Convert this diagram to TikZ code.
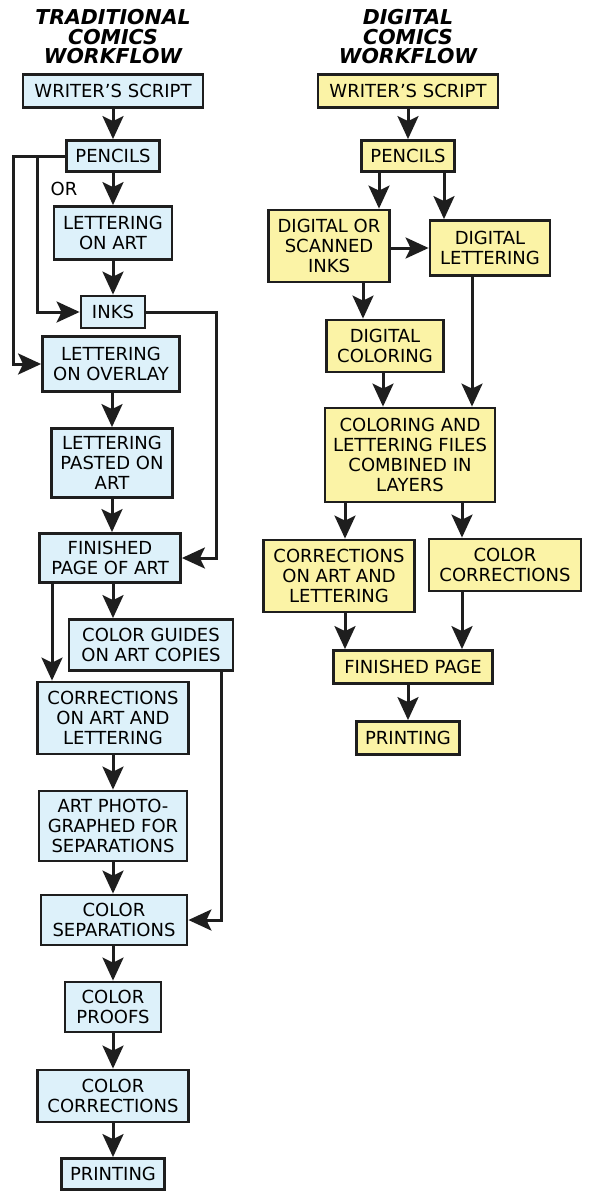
\documentclass[tikz,border=0pt]{standalone}
\usepackage{fontspec}
\setmainfont{DejaVu Sans}
\usepackage{xcolor}
\usetikzlibrary{arrows.meta}
\definecolor{tradblue}{HTML}{DDF1FA}
\definecolor{digiyellow}{HTML}{FBF3A6}
\definecolor{inkline}{HTML}{1E1E1E}

\begin{document}
\begin{tikzpicture}[x=1pt, y=-1pt, >={Stealth[length=23pt, width=21pt, inset=5pt]},
  line width=3pt, draw=inkline,
  box/.style={draw=inkline, line width=2.8pt, inner sep=0pt, align=center, font=\fontsize{18}{20}\selectfont},
  sz/.style 2 args={minimum width=#1pt, minimum height=#2pt},
  trad/.style={box, fill=tradblue},
  digi/.style={box, fill=digiyellow},
  head/.style={align=center, inner sep=0pt, font=\fontsize{20.5}{19.5}\selectfont\bfseries\itshape}]
  \useasboundingbox (0,0) rectangle (590,1200);

  % traditional workflow
  \node[head] (th) at (113,37) {TRADITIONAL\\COMICS\\WORKFLOW};
  \node[trad, sz={180}{33}] (ws) at (113,91) {WRITER’S SCRIPT};
  \node[trad, sz={93}{31}] (pen) at (113,156) {PENCILS};
  \node[inner sep=0pt, font=\fontsize{18}{20}\selectfont] (or) at (64,189) {OR};
  \node[trad, sz={118}{53}] (loa) at (113,233) {LETTERING\\ON ART};
  \node[trad, sz={64}{32}] (inks) at (113,312) {INKS};
  \node[trad, sz={137}{55}] (ovl) at (111,364) {LETTERING\\ON OVERLAY};
  \node[trad, sz={121}{69}] (pst) at (112,463) {LETTERING\\PASTED ON\\ART};
  \node[trad, sz={141}{49}] (fin) at (110,558) {FINISHED\\PAGE OF ART};
  \node[trad, sz={164}{51}] (gd) at (151,645) {COLOR GUIDES\\ON ART COPIES};
  \node[trad, sz={151}{72}] (cor) at (113,718) {CORRECTIONS\\ON ART AND\\LETTERING};
  \node[trad, sz={148}{70}] (pho) at (113,826) {ART PHOTO-\\GRAPHED FOR\\SEPARATIONS};
  \node[trad, sz={146}{50}] (sep) at (114,920) {COLOR\\SEPARATIONS};
  \node[trad, sz={96}{50}] (prf) at (113,1007) {COLOR\\PROOFS};
  \node[trad, sz={151}{52}] (cc) at (113,1096) {COLOR\\CORRECTIONS};
  \node[trad, sz={103}{31}] (prn) at (113,1174) {PRINTING};

  \draw[->] (ws) -- (pen);
  \draw[->] (pen) -- (loa);
  \draw[->] (loa) -- (inks);
  \draw[->] (pen.west) -- ++(-52,0) |- (ovl.west);
  \draw[->] ([xshift=-28pt]pen.west) |- (inks.west);
  \draw[->] (inks.east) -- ++(70,0) |- (fin.east);
  \draw[->] (ovl.south -| pst) -- (pst);
  \draw[->] (pst.south -| fin.north) ++(2,0) -- ([xshift=2pt]fin.north);
  \draw[->] ([xshift=3pt]fin.south) -- ([xshift=3pt]fin.south |- gd.north);
  \draw[->] ([xshift=-58pt]fin.south) -- ([xshift=-61pt]cor.north);
  \draw[->] ([xshift=70pt]gd.south) |- (sep.east);
  \draw[->] (cor) -- (pho);
  \draw[->] (pho.south) -- (pho.south |- sep.north);
  \draw[->] (sep.south -| prf) -- (prf);
  \draw[->] (prf) -- (cc);
  \draw[->] (cc) -- (prn);

  % digital workflow
  \node[head] (dh) at (408,37) {DIGITAL\\COMICS\\WORKFLOW};
  \node[digi, sz={180}{33}] (ws2) at (408,91) {WRITER’S SCRIPT};
  \node[digi, sz={93}{31}] (pen2) at (408,156) {PENCILS};
  \node[digi, sz={121}{72}] (ink2) at (329,246) {DIGITAL OR\\SCANNED\\INKS};
  \node[digi, sz={120}{55}] (let2) at (490,248) {DIGITAL\\LETTERING};
  \node[digi, sz={117}{52}] (col2) at (385,346) {DIGITAL\\COLORING};
  \node[digi, sz={170}{94}] (cmb) at (410,455) {COLORING AND\\LETTERING FILES\\COMBINED IN\\LAYERS};
  \node[digi, sz={151}{72}] (cor2) at (339,576) {CORRECTIONS\\ON ART AND\\LETTERING};
  \node[digi, sz={152}{52}] (cc2) at (505,565) {COLOR\\CORRECTIONS};
  \node[digi, sz={159}{33}] (fin2) at (413,667) {FINISHED PAGE};
  \node[digi, sz={103}{33}] (prn2) at (408,738) {PRINTING};

  \draw[->] (ws2) -- (pen2);
  \draw[->] ([xshift=-29pt]pen2.south) -- ([xshift=50pt]ink2.north);
  \draw[->] ([xshift=36pt]pen2.south) -- ([xshift=-46pt]let2.north);
  \draw[->] ([yshift=-2pt]ink2.east) -- ([yshift=-2pt]ink2.east -| let2.west);
  \draw[->] ([xshift=34pt]ink2.south) -- ([xshift=-22pt]col2.north);
  \draw[->] ([xshift=-2pt]col2.south) -- ([xshift=-2pt]col2.south |- cmb.north);
  \draw[->] ([xshift=-18pt]let2.south) -- ([xshift=62pt]cmb.north);
  \draw[->] ([xshift=-65pt]cmb.south) -- ([xshift=6pt]cor2.north);
  \draw[->] ([xshift=52pt]cmb.south) -- ([xshift=-43pt]cc2.north);
  \draw[->] ([xshift=6pt]cor2.south) -- ([xshift=-68pt]fin2.north);
  \draw[->] ([xshift=-43pt]cc2.south) -- ([xshift=49pt]fin2.north);
  \draw[->] (prn2.north |- fin2.south) -- (prn2.north);
\end{tikzpicture}
\end{document}
